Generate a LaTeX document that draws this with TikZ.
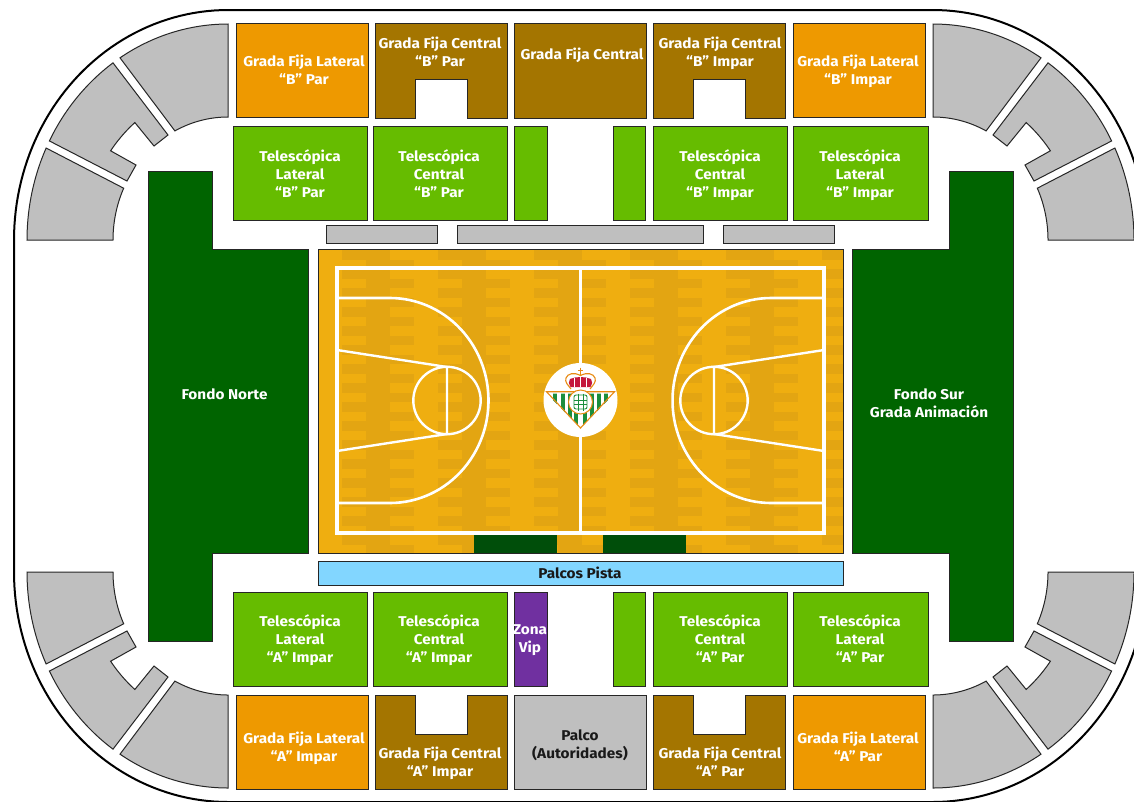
\documentclass[tikz,border=0pt]{standalone}
\usepackage{fontspec}
\setmainfont{Fira Sans}[FakeStretch=1.08]
\definecolor{cOrange}{HTML}{EE9900}
\definecolor{cBrown}{HTML}{A47500}
\definecolor{cGreen}{HTML}{66BC00}
\definecolor{cGray}{HTML}{BFBFBF}
\definecolor{cDark}{HTML}{006400}
\definecolor{cSky}{HTML}{82D6FF}
\definecolor{cPurple}{HTML}{7030A0}
\definecolor{cWood}{HTML}{EFAE10}
\definecolor{cWoodD}{HTML}{E3A512}
\definecolor{cBench}{HTML}{004E0A}
\definecolor{cLogoG}{HTML}{1B8E3D}
\definecolor{cLogoO}{HTML}{E88A12}
\definecolor{cLogoR}{HTML}{C4173C}
\tikzset{
  seat/.style={draw=black!85,line width=1pt},
  arcp/.style={samples=30,variable=\t},
  lbl/.style={text=white,align=center,inner sep=0pt,text depth=0pt,font=\fontsize{14.2}{18}\selectfont\bfseries},
  lblk/.style={lbl,text=black!90},
  courtline/.style={draw=white,line width=2.6pt},
  boundline/.style={draw=white,line width=3.6pt,line join=miter}
}
\begin{document}
\begin{tikzpicture}[x=1pt,y=-1pt]
\useasboundingbox (0,0) rectangle (1134,801);
\fill[white] (0,0) rectangle (1134,801);
% outer boundary
\draw[black,line width=2pt]
  plot[domain=180:270,samples=50,variable=\t] ({228+214*cos(\t)},{240+230*sin(\t)})
  -- plot[domain=270:360,samples=50,variable=\t] ({933+214*cos(\t)},{240+230*sin(\t)})
  -- plot[domain=0:90,samples=50,variable=\t] ({933+214*cos(\t)},{572+230*sin(\t)})
  -- plot[domain=90:180,samples=50,variable=\t] ({228+214*cos(\t)},{572+230*sin(\t)})
  -- cycle;
% corner stands
\foreach \cx/\cy/\sx/\sy in {228/240/1/1,933/240/-1/1,228/572/1/-1,933/572/-1/-1}{
  \begin{scope}[shift={(\cx,\cy)},xscale=\sx,yscale=\sy]
    \draw[seat,fill=cGray] plot[arcp,domain=270:237.5] ({201*cos(\t)},{216*sin(\t)}) -- plot[arcp,domain=242.5:270] ({115*cos(\t)},{123*sin(\t)}) -- cycle;
    \draw[seat,fill=cGray] plot[arcp,domain=235.1:207.3] ({201*cos(\t)},{216*sin(\t)}) -- (-101,-59) -- (-92,-75)
       -- plot[arcp,domain=215.4:229.7] ({144*cos(\t)},{154*sin(\t)}) -- (-74,-94) -- (-60,-105) -- cycle;
    \draw[seat,fill=cGray] plot[arcp,domain=205.2:180] ({201*cos(\t)},{216*sin(\t)}) -- plot[arcp,domain=180:204.9] ({115*cos(\t)},{123*sin(\t)}) -- cycle;
  \end{scope}
}
% top row
\draw[seat,fill=cOrange] (236.5,23) rectangle (368,117);
\draw[seat,fill=cBrown] (375,23) -- (507,23) -- (507,118) -- (467,118) -- (467,79) -- (415,79) -- (415,118) -- (375,118) -- cycle;
\draw[seat,fill=cBrown] (514,23) rectangle (646,118);
\draw[seat,fill=cBrown] (653,23) -- (785,23) -- (785,118) -- (745,118) -- (745,79) -- (693,79) -- (693,118) -- (653,118) -- cycle;
\draw[seat,fill=cOrange] (793,23) rectangle (925,117);
% telescopic top
\draw[seat,fill=cGreen] (233,126) rectangle (367,220);
\draw[seat,fill=cGreen] (373,126) rectangle (507,220);
\draw[seat,fill=cGreen] (514,126) rectangle (547,220);
\draw[seat,fill=cGreen] (613,126) rectangle (645.5,220);
\draw[seat,fill=cGreen] (653,126) rectangle (787,220);
\draw[seat,fill=cGreen] (793,126) rectangle (928,220);
% small grey
\draw[seat,fill=cGray] (326.5,225.5) rectangle (437,243);
\draw[seat,fill=cGray] (457,225.5) rectangle (703,243);
\draw[seat,fill=cGray] (723.5,225.5) rectangle (834,243);
% ends
\draw[seat,fill=cDark] (148,171) -- (212,171) -- (212,249) -- (308,249) -- (308,553) -- (212,553) -- (212,641) -- (148,641) -- cycle;
\draw[seat,fill=cDark] (1013,171) -- (949,171) -- (949,249) -- (852,249) -- (852,553) -- (949,553) -- (949,641) -- (1013,641) -- cycle;
% court
\fill[cWood] (318,249) rectangle (843,553);
\begin{scope}
  \clip (318,249) rectangle (843,553);
  \foreach \k in {0,...,5}{
    \pgfmathsetmacro{\xa}{342+96*\k}
    \fill[cWoodD] (\xa+24,249) rectangle (\xa+48,553);
    \foreach \r in {0,...,15}{
      \fill[cWoodD] (\xa,250+19*\r) rectangle (\xa+24,259.5+19*\r);
      \fill[cWoodD] (\xa+48,259.5+19*\r) rectangle (\xa+72,269+19*\r);
    }
  }
\end{scope}
\fill[cBench] (474,533) rectangle (557,553);
\fill[cBench] (603,533) rectangle (686,553);
\draw[black!85,line width=1pt] (318,249) rectangle (843,553);
% court lines
\draw[boundline] (337,268) rectangle (824,533);
\draw[boundline] (580.5,268) -- (580.5,533);
\foreach \mx/\s in {337/1,824/-1}{
  \begin{scope}[shift={(\mx,0)},xscale=\s]
    \draw[courtline] (0,298) -- (53,298) -- plot[domain=-90:90,samples=60,variable=\t] ({53+98.5*cos(\t)},{400.5+102.5*sin(\t)}) -- (0,503);
    \draw[courtline,line width=2.4pt] (0,350) -- (110,367) -- (110,434) -- (0,451);
    \draw[courtline,line width=2.4pt] (110,400.5) circle[radius=33.7];
  \end{scope}
}
% crest
\fill[white] (580.5,400) circle[radius=37];
\draw[cLogoO,line width=1.2pt] (580.5,367.5) -- (580.5,376) (577.8,370.5) -- (583.2,370.5);
\fill[cLogoR] (570.5,387) .. controls (569,384) and (568,381) .. (570,379) -- (575,377.5) -- (580.5,377) -- (586,377.5) -- (591,379) .. controls (593,381) and (592,384) .. (590.5,387) -- cycle;
\foreach \xx/\yy in {574.5/378,580.5/377,586.5/378}{\draw[white,line width=.7pt] (\xx,\yy) -- (\xx,387);}
\draw[cLogoO,line width=1.1pt] (571,389) .. controls (568,385) and (564.5,382) .. (566,378) .. controls (567.5,373.5) and (574,372) .. (580.5,375.5) .. controls (587,372) and (593.5,373.5) .. (595,378) .. controls (596.5,382) and (593,385) .. (590,389);
\begin{scope}
  \clip (546.5,393.5) -- (614.5,393.5) -- (580.5,428) -- cycle;
  \fill[white] (546.5,391.7) rectangle (614.5,428);
  \foreach \o in {4.5,11,18,25.5}{
    \fill[cLogoG] (580.5+\o-2,391) rectangle (580.5+\o+2,429);
    \fill[cLogoG] (580.5-\o-2,391) rectangle (580.5-\o+2,429);
  }
\end{scope}
\draw[cLogoO,line width=1.1pt,line join=miter] (546.5,391.7) -- (614.5,391.7) -- (580.5,428) -- cycle;
\draw[cLogoO,line width=1pt,fill=white] (580.5,402) circle[radius=12];
\draw[cLogoG,line width=.9pt,rounded corners=2pt] (574,395) rectangle (587,409);
\draw[cLogoG,line width=.9pt] (578,393.5) -- (578,410.5) (583,393.5) -- (583,410.5) (574,400) -- (587,400) (574,404.5) -- (587,404.5);
% palcos
\draw[seat,fill=cSky] (318,561) rectangle (843,585);
% telescopic bottom
\draw[seat,fill=cGreen] (233,592) rectangle (367,686);
\draw[seat,fill=cGreen] (373,592) rectangle (507,686);
\draw[seat,fill=cPurple] (514,592) rectangle (547,686);
\draw[seat,fill=cGreen] (613,592) rectangle (645.5,686);
\draw[seat,fill=cGreen] (653,592) rectangle (787,686);
\draw[seat,fill=cGreen] (793,592) rectangle (928,686);
% bottom row
\draw[seat,fill=cOrange] (236.5,695) rectangle (368,789);
\draw[seat,fill=cBrown] (375,789) -- (507,789) -- (507,695) -- (467,695) -- (467,734) -- (415,734) -- (415,695) -- (375,695) -- cycle;
\draw[seat,fill=cGray] (514,695) rectangle (646,789);
\draw[seat,fill=cBrown] (653,789) -- (785,789) -- (785,695) -- (745,695) -- (745,734) -- (693,734) -- (693,695) -- (653,695) -- cycle;
\draw[seat,fill=cOrange] (793,695) rectangle (925,789);
% labels
\node[lbl] (t1) at (304,70) {Grada Fija Lateral\\“B” Par};
\node[lbl] (t2) at (440,52) {Grada Fija Central\\“B” Par};
\node[lbl] (t3) at (582,54) {Grada Fija Central};
\node[lbl] (t4) at (720,52) {Grada Fija Central\\“B” Impar};
\node[lbl] (t5) at (858,70) {Grada Fija Lateral\\“B” Impar};
\node[lbl] (t6) at (300,173.5) {Telescópica\\Lateral\\“B” Par};
\node[lbl] (t7) at (439,173.5) {Telescópica\\Central\\“B” Par};
\node[lbl] (t8) at (720,173.5) {Telescópica\\Central\\“B” Impar};
\node[lbl] (t9) at (860,173.5) {Telescópica\\Lateral\\“B” Impar};
\node[lbl] (n1) at (224.5,394) {Fondo Norte};
\node[lbl] (n2) at (929,403) {Fondo Sur\\Grada Animación};
\node[lblk] (p1) at (580,573) {Palcos Pista};
\node[lbl] (b6) at (300,639) {Telescópica\\Lateral\\“A” Impar};
\node[lbl] (b7) at (439,639) {Telescópica\\Central\\“A” Impar};
\node[lbl] (z1) at (530,639) {Zona\\Vip};
\node[lbl] (b8) at (720,639) {Telescópica\\Central\\“A” Par};
\node[lbl] (b9) at (860,639) {Telescópica\\Lateral\\“A” Par};
\node[lbl] (b1) at (304,747) {Grada Fija Lateral\\“A” Impar};
\node[lbl] (b2) at (440,762) {Grada Fija Central\\“A” Impar};
\node[lblk] (b3) at (580,744) {Palco\\(Autoridades)};
\node[lbl] (b4) at (720,762) {Grada Fija Central\\“A” Par};
\node[lbl] (b5) at (858,747) {Grada Fija Lateral\\“A” Par};
\end{tikzpicture}
\end{document}
